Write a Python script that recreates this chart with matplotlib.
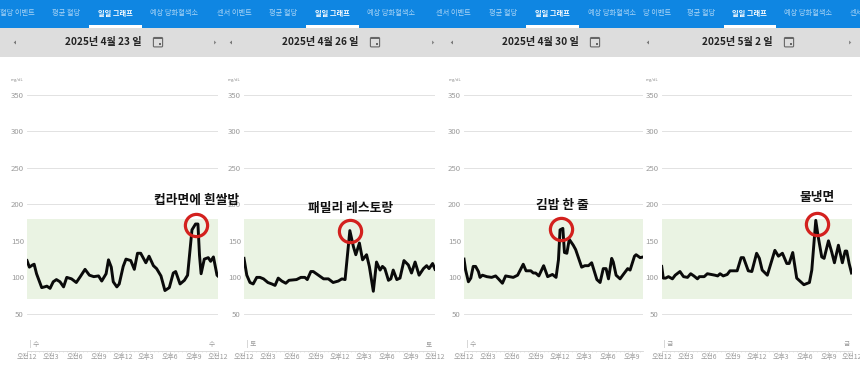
import matplotlib
matplotlib.use("Agg")
import matplotlib.pyplot as plt
from matplotlib.patches import Rectangle, Polygon, FancyBboxPatch

plt.rcParams['font.family'] = ['Noto Sans CJK KR', 'DejaVu Sans']

W, H = 860, 378

hours_a = [0,.3,.7,.9,1.2,1.85,2.2,2.5,2.9,3.3,3.7,4.15,4.6,5,5.6,6.2,6.7,7.3,7.85,8.4,9,9.4,9.95,10.25,10.6,10.85,11.3,11.6,12.1,12.45,13.05,13.5,13.9,14.3,14.95,15.35,15.9,16.3,16.85,17.35,17.9,18.4,18.7,19.25,19.8,20.2,20.75,21.2,21.5,21.7,21.9,22.3,22.8,23.1,23.45,23.9,24]
gluc_a = [123,114,117,118,105,86,87,88,85,94,97,94,87,100,98,93,101,111,103,101,102,95,105,124,114,94,87,91,115,125,123,111,133,133,120,129,116,112,102,82,86,106,108,91,96,103,165,173,173,130,105,125,127,122,128,103,102]

hours_b = [0,.35,.75,1.15,1.6,2,2.45,3,3.5,3.9,4.3,4.75,5.25,5.65,6.6,7.15,7.65,7.95,8.4,8.7,9.35,10,10.6,11.2,11.85,12.3,12.7,13.3,13.75,14.05,14.5,14.9,15.4,15.75,16.25,16.65,17.1,17.4,17.7,18.15,18.45,18.75,19.2,19.6,20.1,20.65,21.05,21.5,22,22.55,22.95,23.25,23.7,24]
gluc_b = [126,103,93,91,100,100,98,93,91,89,99,95,92,96,97,100,100,97,108,108,103,98,98,93,95,98,97,164,142,131,147,124,131,115,81,121,110,115,112,96,98,110,97,99,123,117,106,121,103,112,116,112,119,111]

hours_c = [0,.2,.55,.85,1.15,1.45,1.8,2,2.3,2.85,3.45,3.95,4.3,4.8,5.2,6.15,6.7,7.4,7.75,8.35,8.65,8.95,9.35,9.95,10.45,11.05,11.5,11.8,12,12.35,12.55,12.85,13.15,13.65,13.95,14.7,15.1,15.55,15.95,16.6,17,17.4,17.75,18.05,18.45,18.65,19,19.5,19.9,20.45,20.75,21.3,21.5,22,22.4]
gluc_c = [125,110,94,99,115,115,108,100,103,101,100,102,98,92,102,100,103,118,109,109,106,106,102,116,101,104,100,124,165,167,134,133,152,144,138,114,116,116,120,97,93,112,112,98,126,121,103,98,104,112,110,129,131,127,128]

hours_d = [0,.2,.5,.85,1.35,1.7,2.3,2.75,3.25,3.65,4.05,4.5,4.75,5.35,5.75,6.7,7.05,7.35,7.75,8.25,8.6,9.5,10,10.3,10.9,11.35,11.95,12.3,12.65,13.3,14.25,14.7,15.2,15.75,16.05,16.5,17,17.4,17.9,18.6,18.9,19.4,19.7,20.15,20.45,21,21.4,21.75,22.25,22.75,23.1,23.3,23.6,23.9]
gluc_d = [115,99,99,101,98,103,108,101,100,105,102,98,101,101,105,103,102,105,102,104,109,109,127,127,109,108,133,126,110,103,137,129,133,119,119,134,99,95,90,93,110,178,156,128,126,150,135,120,144,120,136,136,119,106]

dates = ['2025년 4월 23 일', '2025년 4월 26 일', '2025년 4월 30 일', '2025년 5월 2 일']
foods = ['컵라면에 흰쌀밥', '패밀리 레스토랑', '김밥 한 줄', '물냉면']
weekdays = ['수', '토', '수', '금']
peak_hours = [21.2, 13.35, 12.1, 19.5]
peak_vals = [172, 163, 166, 173]
hour_ticks = [0, 3, 6, 9, 12, 15, 18, 21, 24]
hour_labels = ['오전12', '오전3', '오전6', '오전9', '오후12', '오후3', '오후6', '오후9', '오전12']
y_ticks = [50, 100, 150, 200, 250, 300, 350]
tab_names = ['혈당 이벤트', '평균 혈당', '일일 그래프', '예상 당화혈색소',
             '센서 이벤트', '평균 혈당', '일일 그래프', '예상 당화혈색소',
             '센서 이벤트', '평균 혈당', '일일 그래프', '예상 당화혈색소',
             '당 이벤트', '평균 혈당', '일일 그래프', '예상 당화혈색소', '센서']
tab_x = [17, 66, 115, 174, 234, 283, 332, 391, 453, 503, 552, 612, 657, 701, 749, 808, 856]

panels = [
    dict(x0=27, x1=217.8, xmax=24, h=hours_a, g=gluc_a, date_x=103, cal_x=158, left=15, right=215, unit=17, end_day=True, food_x=197, food_y=200),
    dict(x0=244, x1=435, xmax=24, h=hours_b, g=gluc_b, date_x=320, cal_x=375, left=231, right=433, unit=234, end_day=True, food_x=351, food_y=208),
    dict(x0=464, x1=643.3, xmax=22.4, h=hours_c, g=gluc_c, date_x=540, cal_x=595, left=452, right=None, unit=455, end_day=False, food_x=562.5, food_y=205),
    dict(x0=661.7, x1=852.3, xmax=24, h=hours_d, g=gluc_d, date_x=737, cal_x=789, left=648, right=850, unit=652, end_day=True, food_x=817, food_y=198),
]

fig = plt.figure(figsize=(W / 100, H / 100), dpi=100, facecolor='white')

bg = fig.add_axes([0, 0, 1, 1], zorder=0)
bg.set_xlim(0, W); bg.set_ylim(H, 0); bg.axis('off')
bg.add_patch(Rectangle((0, 0), W, 28, fc='#0F86E2', ec='none'))
bg.add_patch(Rectangle((0, 28), W, 29, fc='#DDDDDD', ec='none'))
for name, x in zip(tab_names, tab_x):
    active = name == '일일 그래프'
    bg.text(x, 13.5, name, ha='center', va='center', fontsize=5.2, clip_on=True,
            color='#FFFFFF' if active else '#A9D4F5', fontweight='bold' if active else 'normal')

for i, p in enumerate(panels):
    ul = p['x0'] + 62
    bg.add_patch(Rectangle((ul, 25.3), 52.5, 2.4, fc='white', ec='none'))
    bg.text(p['date_x'], 42.5, dates[i], ha='center', va='center',
            fontsize=7.3, fontweight='bold', color='#222222')
    cx = p['cal_x']
    bg.add_patch(FancyBboxPatch((cx - 4.6, 37.5), 9.2, 9.4, boxstyle='round,pad=0,rounding_size=1',
                                fc='none', ec='#666666', lw=0.8))
    bg.add_patch(Rectangle((cx - 4.6, 37.5), 9.2, 1.8, fc='#666666', ec='none'))
    bg.add_patch(Rectangle((cx + 0.5, 42.6), 2, 2, fc='#666666', ec='none'))
    bg.add_patch(Polygon([(p['left'] - 1.3, 42.5), (p['left'] + 1, 40.5), (p['left'] + 1, 44.5)], fc='#777777', ec='none'))
    if p['right']:
        bg.add_patch(Polygon([(p['right'] + 1.3, 42.5), (p['right'] - 1, 40.5), (p['right'] - 1, 44.5)], fc='#888888', ec='none'))
    bg.text(p['unit'], 80, 'mg/dL', ha='center', va='center', fontsize=3, color='#888888')

top_px, bot_px = 94.6, 350.5
for i, p in enumerate(panels):
    ax = fig.add_axes([p['x0'] / W, 1 - bot_px / H, (p['x1'] - p['x0']) / W, (bot_px - top_px) / H], zorder=2)
    ax.patch.set_alpha(0)
    ax.set_xlim(0, p['xmax']); ax.set_ylim(0, 350)
    for s in ['top', 'left', 'right']:
        ax.spines[s].set_visible(False)
    ax.spines['bottom'].set_color('#D5D5D5'); ax.spines['bottom'].set_linewidth(0.6)
    ax.axhspan(70, 180, fc='#EAF3E3', ec='none', zorder=1)
    ax.set_yticks(y_ticks)
    ax.set_yticklabels([str(v) for v in y_ticks], fontsize=5.6, color='#9A9A9A')
    ax.tick_params(axis='y', length=0, pad=2.2)
    ax.grid(axis='y', color='#E2E2E2', lw=0.7, zorder=0)
    ax.set_axisbelow(True)
    ticks = [t for t in hour_ticks if t <= p['xmax']]
    ax.set_xticks(ticks)
    ax.set_xticklabels(hour_labels[:len(ticks)], fontsize=5, color='#9A9A9A')
    ax.set_xticks([m / 2 for m in range(int(p['xmax'] * 2) + 1)], minor=True)
    ax.tick_params(axis='x', which='major', length=1.5, width=0.5, color='#C8C8C8', pad=0.3)
    ax.tick_params(axis='x', which='minor', length=1, width=0.4, color='#D0D0D0')
    ax.plot(p['h'], p['g'], color='#0A0A0A', lw=2.1, solid_joinstyle='round', zorder=4)
    ax.plot([peak_hours[i]], [peak_vals[i]], 'o', ms=16, mfc='none', mec='#D3211E', mew=2.3, zorder=5, clip_on=False)
    ax.text(0.35, 8.5, '| ' + weekdays[i], fontsize=4.8, color='#999999', ha='left', va='center')
    if p['end_day']:
        ax.text(p['xmax'] - 0.35, 8.5, weekdays[i], fontsize=4.8, color='#999999', ha='right', va='center')

fg = fig.add_axes([0, 0, 1, 1], zorder=3)
fg.set_xlim(0, W); fg.set_ylim(H, 0); fg.axis('off'); fg.patch.set_alpha(0)
for i, p in enumerate(panels):
    fg.text(p['food_x'], p['food_y'], foods[i], ha='center', va='center', fontsize=9.2,
            fontweight='bold', color='#111111')

fig.savefig('out.png', dpi=100)
